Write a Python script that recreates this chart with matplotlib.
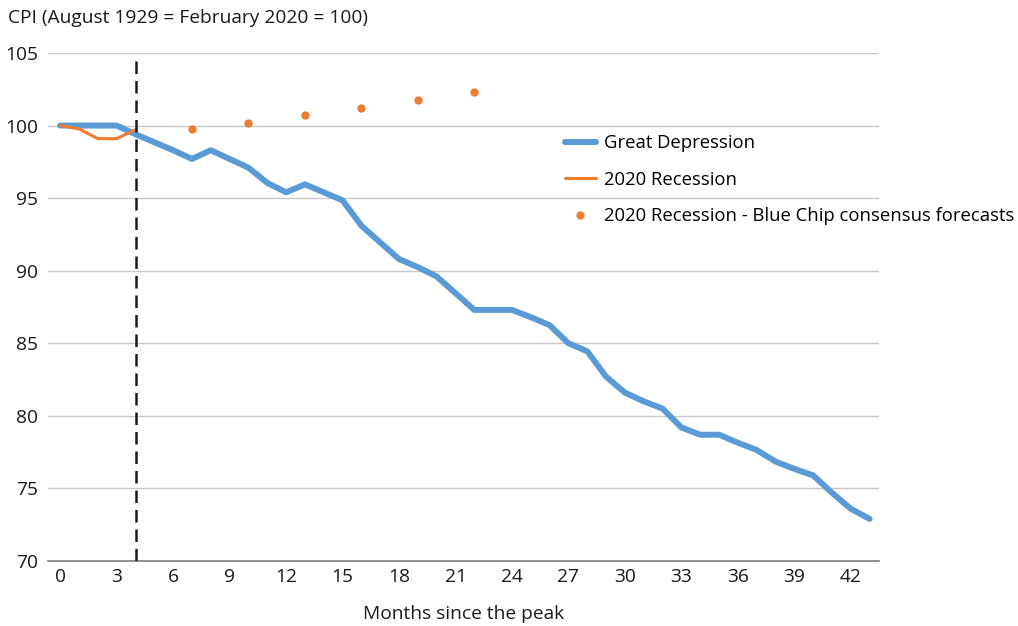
import numpy as np
import matplotlib
matplotlib.use("Agg")
import matplotlib.pyplot as plt

plt.rcParams['font.family'] = ['Open Sans', 'DejaVu Sans']

# months since the peak
months = list(range(44))
great_depression = [100, 100, 100, 100, 99.4, 98.85, 98.3, 97.7, 98.3, 97.7,
                    97.1, 96.05, 95.4, 95.95, 95.4, 94.85, 93.1, 91.95, 90.8, 90.25,
                    89.6, 88.45, 87.3, 87.3, 87.3, 86.8, 86.25, 85.0, 84.45, 82.7,
                    81.6, 81.0, 80.5, 79.2, 78.7, 78.7, 78.15, 77.65, 76.85, 76.35,
                    75.9, 74.7, 73.6, 72.9]
rec_months = [0, 1, 2, 3, 4]
recession_2020 = [100, 99.77, 99.1, 99.1, 99.72]
fc_months = [7, 10, 13, 16, 19, 22]
forecasts = [99.73, 100.19, 100.74, 101.19, 101.74, 102.29]
xticks = list(range(0, 43, 3))
yticks = [70, 75, 80, 85, 90, 95, 100, 105]

BLUE = '#5B9BD5'
ORANGE = '#ED7D31'
FS = 13.8

fig = plt.figure(figsize=(10.18, 6.26), dpi=100)
ax = fig.add_axes([48 / 1018, 1 - 561 / 626, (879 - 48) / 1018, (561 - 53) / 626])

ax.plot(months, great_depression, color=BLUE, lw=4.3, solid_capstyle='round',
        solid_joinstyle='round', label='Great Depression', zorder=3)
ax.plot(rec_months, recession_2020, color=ORANGE, lw=2.2, solid_capstyle='round',
        label='2020 Recession', zorder=4)
ax.plot(fc_months, forecasts, ls='none', marker='o', ms=5, color=ORANGE,
        label='2020 Recession - Blue Chip consensus forecasts', zorder=4)
ax.axvline(4, ymin=0, ymax=0.99, color='#1a1a1a', lw=1.8, ls=(0, (5, 2.8)), zorder=5)

ax.set_xlim(-0.65, 43.5)
ax.set_ylim(70, 105)
ax.set_xticks(xticks)
ax.set_yticks(yticks)
ax.tick_params(length=0, labelsize=FS, colors='#1a1a1a', pad=5)
ax.tick_params(axis='y', pad=7)
ax.grid(axis='y', color='#c8c8c8', lw=1)
ax.set_axisbelow(True)
for s in ['top', 'right', 'left']:
    ax.spines[s].set_visible(False)
ax.spines['bottom'].set_color('#7f7f7f')
ax.spines['bottom'].set_linewidth(1.2)

ax.set_xlabel('Months since the peak', fontsize=FS, color='#1a1a1a', labelpad=14)
fig.text(8 / 1018, 1 - 18 / 626, 'CPI (August 1929 = February 2020 = 100)',
         fontsize=FS, color='#1a1a1a', va='center', ha='left')

fig.legend(loc='upper left', bbox_to_anchor=(556 / 1018, 1 - 125 / 626),
           frameon=False, fontsize=13.3, handlelength=1.65, handletextpad=0.45,
           labelspacing=1.0, borderpad=0)

fig.savefig('out.png', dpi=100)
